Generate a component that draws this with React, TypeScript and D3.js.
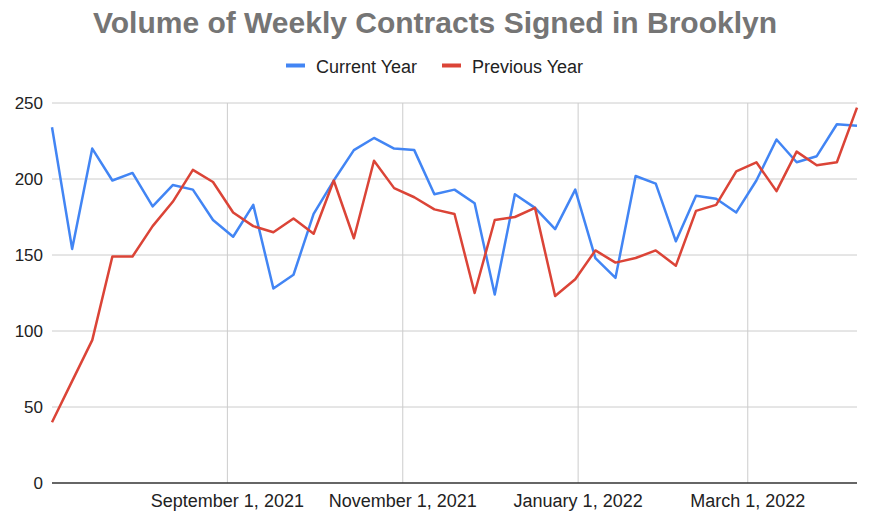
import React from "react";
import * as d3 from "d3";

const W = 869;
const H = 519;

const startDate = "2021-07-02";
const weekCount = 41;

const currentYear = [
  234, 154, 220, 199, 204, 182, 196, 193, 173, 162,
  183, 128, 137, 177, 199, 219, 227, 220, 219, 190,
  193, 184, 124, 190, 181, 167, 193, 148, 135, 202,
  197, 159, 189, 187, 178, 199, 226, 211, 215, 236,
  235,
];

const previousYear = [
  40, 67, 94, 149, 149, 169, 185, 206, 198, 178,
  169, 165, 174, 164, 199, 161, 212, 194, 188, 180,
  177, 125, 173, 175, 181, 123, 134, 153, 145, 148,
  153, 143, 179, 183, 205, 211, 192, 218, 209, 211,
  247,
];

const yTicks = [0, 50, 100, 150, 200, 250];
const xTickDates = ["2021-09-01", "2021-11-01", "2022-01-01", "2022-03-01"];
const xTickLabels = ["September 1, 2021", "November 1, 2021", "January 1, 2022", "March 1, 2022"];

const seriesNames = ["Current Year", "Previous Year"];
const seriesColors = ["#4285F4", "#DB4437"];

const parse = d3.utcParse("%Y-%m-%d");

export default function App() {
  const start = parse(startDate)!;
  const dates = d3.range(weekCount).map((i) => d3.utcDay.offset(start, i * 7));
  const margin = { left: 52, right: 12, top: 103, bottom: 36 };
  const x = d3
    .scaleUtc()
    .domain([dates[0], dates[dates.length - 1]])
    .range([margin.left, W - margin.right]);
  const y = d3.scaleLinear().domain([0, 250]).range([H - margin.bottom, margin.top]);

  const line = d3
    .line<number>()
    .x((_, i) => x(dates[i]))
    .y((d) => y(d));

  const series = [currentYear, previousYear];
  const font = "Arial, 'Liberation Sans', Helvetica, sans-serif";

  return (
    <svg
      width={W}
      height={H}
      style={{ position: "absolute", left: 0, top: 0, background: "#fff" }}
      fontFamily={font}
    >
      <rect x={0} y={0} width={W} height={H} fill="#fff" />
      <text
        x={435}
        y={33}
        textAnchor="middle"
        fontSize={30}
        fontWeight="bold"
        fill="#757575"
      >
        Volume of Weekly Contracts Signed in Brooklyn
      </text>

      {/* legend */}
      <g>
        <rect x={286} y={63.5} width={19} height={4} fill={seriesColors[0]} />
        <text x={316} y={72.5} fontSize={18} fill="#222">
          {seriesNames[0]}
        </text>
        <rect x={442} y={63.5} width={19} height={4} fill={seriesColors[1]} />
        <text x={472} y={72.5} fontSize={18} fill="#222">
          {seriesNames[1]}
        </text>
      </g>

      {/* horizontal grid */}
      {yTicks.map((t) =>
        t === 0 ? null : (
          <line key={"g" + t} x1={margin.left} x2={W - margin.right} y1={y(t)} y2={y(t)} stroke="#cccccc" strokeWidth={1} />
        )
      )}
      {/* vertical grid */}
      {xTickDates.map((d) => {
        const xx = x(parse(d)!);
        return <line key={"v" + d} x1={xx} x2={xx} y1={margin.top} y2={y(0)} stroke="#cccccc" strokeWidth={1} />;
      })}

      {/* y labels */}
      {yTicks.map((t) => (
        <text key={"yl" + t} x={43} y={y(t) + 5.5} textAnchor="end" fontSize={17} fill="#222">
          {t}
        </text>
      ))}

      {/* x labels */}
      {xTickDates.map((d, i) => (
        <text key={"xl" + d} x={x(parse(d)!)} y={507} textAnchor="middle" fontSize={18} fill="#222">
          {xTickLabels[i]}
        </text>
      ))}

      {/* lines */}
      {series.map((s, i) => (
        <path key={"s" + i} d={line(s) || ""} fill="none" stroke={seriesColors[i]} strokeWidth={2.5} strokeLinejoin="round" />
      ))}

      {/* baseline */}
      <line x1={margin.left} x2={W - margin.right} y1={y(0)} y2={y(0)} stroke="#333333" strokeWidth={1.5} />
    </svg>
  );
}
